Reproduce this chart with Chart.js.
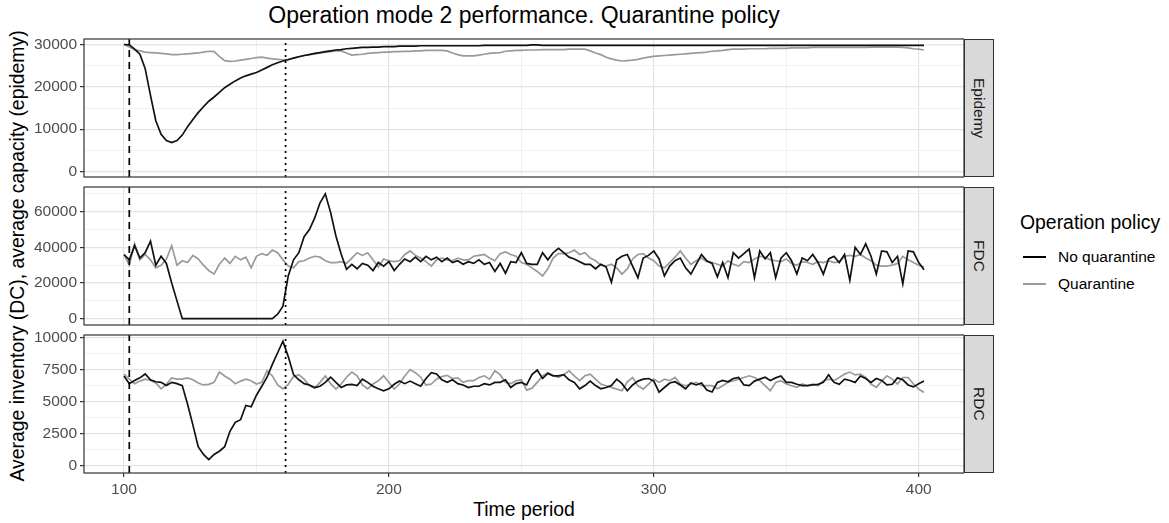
<!DOCTYPE html>
<html>
<head>
<meta charset="utf-8">
<title>Operation mode 2 performance</title>
<script src="https://cdn.jsdelivr.net/npm/chart.js@4.4.1/dist/chart.umd.min.js"></script>
<style>
  html, body { margin: 0; padding: 0; background: #fff; }
  body { position: relative; width: 1169px; height: 523px; overflow: hidden;
         font-family: "Liberation Sans", Arial, sans-serif; color: #000; }
  canvas { position: absolute; left: 0; }
  .txt { position: absolute; white-space: nowrap; line-height: 1; }
  #title { left: 84px; width: 880px; top: 4px; text-align: center; font-size: 23px; }
  #ytitle { left: 18px; top: 256px; font-size: 19.4px; transform: translate(-50%, -50%) rotate(-90deg); }
  #xtitle { left: 84px; width: 880px; top: 500px; text-align: center; font-size: 19.4px; }
  .strip { position: absolute; left: 964px; width: 30px; height: 138px; box-sizing: border-box;
           background: #d9d9d9; border: 1px solid #333; writing-mode: vertical-rl;
           display: flex; align-items: center; justify-content: center;
           font-size: 15.5px; color: #1a1a1a; }
  #legTitle { left: 1020px; top: 213px; font-size: 19.4px; }
  .key { position: absolute; left: 1023px; width: 23px; height: 2px; }
  .ltext { left: 1058px; font-size: 15.5px; }
</style>
</head>
<body>
<div id="title" class="txt">Operation mode 2 performance. Quarantine policy</div>
<div id="ytitle" class="txt">Average inventory (DC), average capacity (epidemy)</div>
<div id="xtitle" class="txt">Time period</div>

<canvas id="cEpi" width="964" height="158" style="top:29px"></canvas>
<canvas id="cFdc" width="964" height="158" style="top:177px"></canvas>
<canvas id="cRdc" width="964" height="176" style="top:325px"></canvas>

<div class="strip" style="top:39px">Epidemy</div>
<div class="strip" style="top:187px">FDC</div>
<div class="strip" style="top:335px">RDC</div>

<div id="legTitle" class="txt">Operation policy</div>
<div class="key" style="top:256px; background:#000"></div>
<div class="txt ltext" style="top:249px">No quarantine</div>
<div class="key" style="top:283px; background:#9a9a9a"></div>
<div class="txt ltext" style="top:276px">Quarantine</div>

<script>
// time periods (every second period)
const periods = [
  100, 102, 104, 106, 108, 110, 112, 114, 116, 118,
  120, 122, 124, 126, 128, 130, 132, 134, 136, 138,
  140, 142, 144, 146, 148, 150, 152, 154, 156, 158,
  160, 162, 164, 166, 168, 170, 172, 174, 176, 178,
  180, 182, 184, 186, 188, 190, 192, 194, 196, 198,
  200, 202, 204, 206, 208, 210, 212, 214, 216, 218,
  220, 222, 224, 226, 228, 230, 232, 234, 236, 238,
  240, 242, 244, 246, 248, 250, 252, 254, 256, 258,
  260, 262, 264, 266, 268, 270, 272, 274, 276, 278,
  280, 282, 284, 286, 288, 290, 292, 294, 296, 298,
  300, 302, 304, 306, 308, 310, 312, 314, 316, 318,
  320, 322, 324, 326, 328, 330, 332, 334, 336, 338,
  340, 342, 344, 346, 348, 350, 352, 354, 356, 358,
  360, 362, 364, 366, 368, 370, 372, 374, 376, 378,
  380, 382, 384, 386, 388, 390, 392, 394, 396, 398,
  400, 402
];

// Epidemy: average capacity
const epiNoQ = [
  30000, 29900, 28900, 27700, 24300, 18000, 12000, 8800, 7300, 6850,
  7300, 8600, 10600, 12300, 13900, 15300, 16600, 17600, 18700, 19800,
  20600, 21400, 22100, 22600, 23000, 23400, 24000, 24600, 25200, 25700,
  26100, 26400, 26800, 27100, 27400, 27600, 27900, 28100, 28300, 28500,
  28700, 28800, 29000, 29100, 29200, 29300, 29300, 29400, 29400, 29500,
  29500, 29500, 29600, 29600, 29600, 29600, 29700, 29700, 29700, 29700,
  29700, 29700, 29700, 29700, 29700, 29700, 29700, 29700, 29800, 29800,
  29800, 29800, 29800, 29800, 29800, 29800, 29800, 29900, 29900, 29800,
  29800, 29800, 29800, 29800, 29800, 29800, 29800, 29800, 29800, 29800,
  29800, 29800, 29800, 29800, 29800, 29800, 29800, 29800, 29800, 29800,
  29800, 29800, 29800, 29800, 29800, 29800, 29800, 29800, 29800, 29800,
  29800, 29800, 29800, 29800, 29800, 29800, 29800, 29800, 29800, 29800,
  29800, 29800, 29800, 29800, 29800, 29800, 29800, 29800, 29800, 29800,
  29800, 29800, 29800, 29800, 29800, 29800, 29800, 29800, 29800, 29800,
  29800, 29800, 29800, 29800, 29800, 29800, 29800, 29800, 29800, 29800,
  29800, 29800
];
const epiQ = [
  30000, 29400, 28800, 28500, 28200, 28100, 28000, 27900, 27800, 27600,
  27600, 27700, 27800, 27900, 28000, 28200, 28400, 28300, 27200, 26200,
  26000, 26100, 26300, 26500, 26700, 26900, 27000, 26800, 26600, 26500,
  26400, 26500, 26800, 27100, 27400, 27700, 27800, 28000, 28200, 28300,
  28500, 28500, 28000, 27500, 27600, 27700, 27900, 28000, 28100, 28200,
  28200, 28300, 28300, 28400, 28400, 28500, 28500, 28600, 28600, 28600,
  28600, 28500, 28000, 27600, 27300, 27300, 27300, 27500, 27700, 27900,
  28000, 28100, 28400, 28500, 28600, 28600, 28700, 28700, 28700, 28800,
  28800, 28800, 28800, 28800, 28900, 28900, 28900, 28900, 28500, 28000,
  27600, 27000, 26600, 26300, 26100, 26200, 26300, 26500, 26800, 27000,
  27200, 27300, 27400, 27500, 27600, 27700, 27800, 27900, 28000, 28100,
  28200, 28400, 28500, 28600, 28800, 28900, 28900, 28900, 29000, 29000,
  29000, 29000, 29100, 29100, 29100, 29100, 29200, 29200, 29200, 29200,
  29300, 29300, 29300, 29300, 29300, 29300, 29300, 29300, 29300, 29300,
  29300, 29400, 29400, 29400, 29400, 29400, 29400, 29300, 29200, 29000,
  28900, 28700
];

// FDC: average inventory
const fdcNoQ = [
  36000, 33000, 41000, 34000, 37000, 43500, 30000, 35000, 31000, 20000,
  10000, 0, 0, 0, 0, 0, 0, 0, 0, 0,
  0, 0, 0, 0, 0, 0, 0, 0, 0, 2500,
  7000, 24000, 33000, 37000, 46000, 50000, 56500, 65000, 70000, 59500,
  46400, 36100, 27700, 30500, 28000, 31000, 30000, 27000, 31500, 29500,
  32000, 27000, 30500, 33500, 32000, 34500, 32000, 35000, 33000, 34500,
  32000, 34000, 31500, 32500, 30500, 32000, 31000, 33000, 30500, 31500,
  26500, 31000, 25500, 32000, 31500, 37000, 31000, 30500, 30500, 37000,
  33000, 37000, 39500, 37000, 34500, 33500, 32000, 30500, 30500, 28000,
  30500, 29000, 20500, 33000, 35000, 36000, 29500, 23000, 34000, 35500,
  38000, 33500, 24000, 29500, 32500, 34000, 28500, 25000, 30500, 36000,
  32500, 31000, 23500, 31500, 23000, 37000, 34000, 36500, 39000, 23000,
  38000, 33500, 37000, 23000, 34000, 37000, 32500, 25000, 34000, 32500,
  36000, 31500, 25000, 33500, 35000, 31500, 36000, 21500, 40000, 36000,
  42000, 35000, 25000, 38000, 37500, 31500, 35000, 19500, 38000, 37500,
  31500, 27500
];
const fdcQ = [
  36000, 30000, 42000, 33000, 36000, 33000, 28500, 30000, 33500, 41000,
  30000, 32500, 31500, 35500, 33500, 30000, 27000, 25000, 30500, 34000,
  31000, 35000, 33000, 34500, 28500, 35000, 36500, 35500, 38500, 37000,
  33000, 29500, 28500, 32000, 32500, 34000, 35000, 34500, 32500, 31500,
  31500, 32000, 31000, 34000, 37000, 35500, 37000, 33000, 29000, 33500,
  32500, 32000, 32500, 36000, 38000, 35500, 34000, 32000, 29500, 33000,
  34000, 33000, 32500, 34000, 33000, 33000, 35000, 35500, 36000, 34000,
  32500, 36500, 37500, 36000, 35000, 31500, 30500, 28500, 26500, 24000,
  28000, 34000, 36500, 36500, 37000, 38500, 36000, 37000, 34000, 32500,
  30000, 29500, 30500, 28500, 25000, 28000, 33500, 36000, 36500, 34000,
  32500, 29500, 28500, 31500, 34500, 38000, 34000, 30500, 32500, 34000,
  32000, 31500, 30500, 29500, 32500, 30500, 29500, 32000, 31500, 33500,
  35000, 34500, 33000, 32500, 32000, 33500, 31000, 30000, 32000, 31500,
  30500, 32000, 31500, 32500, 31500, 32000, 35000, 35500, 35000, 36000,
  34000, 32500, 30000, 29500, 29500, 30000, 31000, 35000, 33000, 31500,
  30000, 29000
];

// RDC: average inventory
const rdcNoQ = [
  7000, 6400, 6650, 6850, 7150, 6700, 6550, 6500, 6250, 6500,
  6400, 6250, 4800, 3200, 1500, 900, 500, 900, 1150, 1500,
  2700, 3400, 3600, 4700, 4600, 5500, 6200, 6900, 7900, 8800,
  9700, 8500, 7100, 6700, 6400, 6300, 6100, 6200, 6500, 6900,
  6500, 6100, 6300, 6350, 6250, 6750, 6500, 6200, 6000, 5850,
  6000, 6350, 6600, 6400, 6600, 6400, 6200, 6800, 7250, 7150,
  6700, 6500, 6700, 6400, 6300, 6100, 6200, 6200, 6400, 6300,
  6500, 6500, 6700, 6100, 6400, 6500, 6300, 7100, 7450, 6800,
  7200, 7000, 7000, 7100, 6700, 6500, 6000, 6250, 6600, 6250,
  6000, 6100, 6250, 6750, 6400, 5850, 6300, 6600, 6750, 6800,
  6600, 5750, 6100, 6450, 6550, 6300, 6000, 6450, 6300, 6450,
  5900, 5750, 6500, 6650, 6550, 6800, 6880, 6300, 6250, 6600,
  6750, 6900, 6650, 6850, 7000, 6500, 6500, 6350, 6250, 6250,
  6300, 6350, 6500, 7100, 6500, 6350, 6750, 6650, 6500, 7000,
  6800, 6500, 6800, 6650, 6300, 6350, 6850, 6700, 6300, 6150,
  6400, 6600
];
const rdcQ = [
  7150, 6750, 6400, 6600, 6750, 6650, 6450, 6000, 6350, 6850,
  6750, 6750, 6850, 6700, 6450, 6300, 6350, 6500, 7300, 7000,
  6750, 6400, 6600, 6750, 6630, 6370, 6500, 7400, 7000, 6300,
  6000, 6350, 6950, 7100, 6750, 6250, 6050, 6500, 7000, 6400,
  5980, 6370, 6900, 7300, 7000, 6300, 6000, 6370, 6630, 7010,
  6500, 5980, 6370, 7000, 7500, 7250, 6900, 6300, 6370, 6750,
  6950, 7050, 6800, 6850, 6500, 6630, 6630, 6880, 7010, 6750,
  7400, 7100, 6500, 6400, 6630, 6700, 5900, 6050, 6500, 7000,
  7250, 7050, 6900, 7100, 7400, 7010, 6630, 7010, 7140, 6750,
  6370, 6240, 6110, 5980, 5850, 6550, 6880, 6240, 5980, 6370,
  6750, 6500, 6750, 6630, 6880, 6370, 6240, 6370, 6500, 6240,
  6240, 6240, 6000, 6240, 6500, 6630, 6750, 6880, 7010, 6880,
  6630, 6240, 5850, 6500, 6630, 6370, 6240, 6110, 6370, 6240,
  6370, 6240, 6630, 6750, 6630, 6880, 7140, 7300, 7080, 7140,
  6880, 6370, 6110, 6600, 7010, 6750, 6370, 6880, 6880, 6370,
  5980, 5720
];

// axis ticks (major get a label, minor only a grid line)
const timeMajor = [100, 200, 300, 400];
const timeMinor = [150, 250, 350];
const epiMajor = [0, 10000, 20000, 30000];
const epiMinor = [5000, 15000, 25000];
const fdcMajor = [0, 20000, 40000, 60000];
const fdcMinor = [10000, 30000, 50000, 70000];
const rdcMajor = [0, 2500, 5000, 7500, 10000];
const rdcMinor = [1250, 3750, 6250, 8750];

// onset of epidemy and quarantine end
const eventTimes = [102, 161];

const tickFont = { family: "'Liberation Sans', Arial, sans-serif", size: 15.5 };

// dashed / dotted reference lines and the dark panel frame
const panelFrame = {
  id: 'panelFrame',
  afterDatasetsDraw(chart) {
    const { ctx, chartArea: a, scales } = chart;
    ctx.save();
    ctx.beginPath();
    ctx.rect(a.left, a.top, a.width, a.height);
    ctx.clip();
    ctx.strokeStyle = '#000';
    ctx.lineWidth = 1.7;
    eventTimes.forEach((t, i) => {
      const px = scales.x.getPixelForValue(t);
      ctx.setLineDash(i === 0 ? [7, 5] : [2, 4]);
      ctx.beginPath();
      ctx.moveTo(px, a.bottom);
      ctx.lineTo(px, a.top);
      ctx.stroke();
    });
    ctx.restore();
    ctx.save();
    ctx.strokeStyle = '#333';
    ctx.lineWidth = 1.2;
    ctx.strokeRect(a.left, a.top, a.width, a.height);
    ctx.restore();
  }
};

function gridOpts(major) {
  return {
    color: (c) => (c.tick && major.includes(c.tick.value)) ? '#e3e3e3' : '#efefef',
    lineWidth: (c) => (c.tick && major.includes(c.tick.value)) ? 1.2 : 0.9,
    tickColor: (c) => (c.tick && major.includes(c.tick.value)) ? '#333' : 'rgba(0,0,0,0)',
    tickWidth: 1.2,
    tickLength: 4
  };
}

function makePanel(canvasId, noQ, q, major, minor, yMin, yMax, showX) {
  const yTicks = major.concat(minor).sort((a, b) => a - b);
  const xTicks = timeMajor.concat(timeMinor).sort((a, b) => a - b);
  return new Chart(document.getElementById(canvasId), {
    type: 'line',
    data: {
      datasets: [
        {
          label: 'No quarantine',
          data: periods.map((t, i) => ({ x: t, y: noQ[i] })),
          borderColor: '#111',
          borderWidth: 1.7,
          pointRadius: 0,
          tension: 0
        },
        {
          label: 'Quarantine',
          data: periods.map((t, i) => ({ x: t, y: q[i] })),
          borderColor: '#9a9a9a',
          borderWidth: 1.7,
          pointRadius: 0,
          tension: 0
        }
      ]
    },
    options: {
      responsive: false,
      animation: false,
      layout: { padding: { top: 10, bottom: showX ? 0 : 10, left: 0, right: 0 } },
      plugins: { legend: { display: false }, tooltip: { enabled: false } },
      scales: {
        x: {
          type: 'linear',
          min: 84.9,
          max: 417.1,
          afterBuildTicks: (s) => { s.ticks = xTicks.map((v) => ({ value: v })); },
          afterFit: (s) => { s.height = showX ? 28 : 0; s.paddingLeft = 0; s.paddingRight = 0; },
          border: { display: false },
          grid: Object.assign(gridOpts(timeMajor), { drawTicks: showX }),
          ticks: {
            display: showX,
            autoSkip: false,
            maxRotation: 0,
            padding: 3,
            color: '#4d4d4d',
            font: tickFont,
            callback: (v) => timeMajor.includes(v) ? String(v) : ''
          }
        },
        y: {
          type: 'linear',
          min: yMin,
          max: yMax,
          afterBuildTicks: (s) => { s.ticks = yTicks.map((v) => ({ value: v })); },
          afterFit: (s) => { s.width = 84; s.paddingTop = 0; s.paddingBottom = 0; },
          border: { display: false },
          grid: gridOpts(major),
          ticks: {
            autoSkip: false,
            padding: 3,
            color: '#4d4d4d',
            font: tickFont,
            callback: (v) => major.includes(v) ? String(v) : ''
          }
        }
      }
    },
    plugins: [panelFrame]
  });
}

makePanel('cEpi', epiNoQ, epiQ, epiMajor, epiMinor, -1300, 31300, false);
makePanel('cFdc', fdcNoQ, fdcQ, fdcMajor, fdcMinor, -3530, 73850, false);
makePanel('cRdc', rdcNoQ, rdcQ, rdcMajor, rdcMinor, -540, 10180, true);
</script>
</body>
</html>
